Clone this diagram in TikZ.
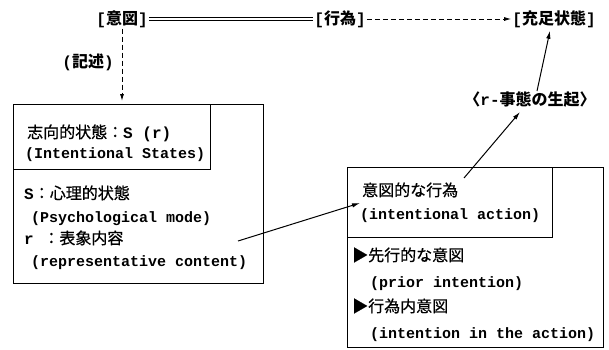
\documentclass[tikz,border=0pt]{standalone}
\usepackage{fontspec}
\newfontfamily\jp{Noto Sans CJK JP}
\newfontfamily\jpm{Noto Sans CJK JP}[FakeBold=0.7]
\newfontfamily\mono{Liberation Mono}
\usetikzlibrary{arrows.meta}
\begin{document}
\begin{tikzpicture}[x=1pt,y=-1pt,
  box/.style={draw, line width=1.1pt, inner sep=0pt, anchor=north west},
  jt/.style={font=\jpm\fontsize{16}{19}\selectfont, inner sep=0pt, anchor=base west},
  mt/.style={font=\mono\bfseries\fontsize{15}{18}\selectfont, inner sep=0pt, anchor=base west},
  head/.style={font=\jp\bfseries\fontsize{16}{19}\selectfont, inner sep=1pt},
  arr/.style={line width=1pt, -{Latex[length=8pt,width=4.5pt]}},
  dsh/.style={line width=0.9pt, dash pattern=on 5pt off 3pt}
]
\useasboundingbox (0,0) rectangle (609,349);
% top row
\node[head] (yi) at (122,19) {{\mono[}意図{\mono]}};
\node[head] (kou) at (340,19) {{\mono[}行為{\mono]}};
\node[head] (goal) at (554,19) {{\mono[}充足状態{\mono]}};
\node[font=\jp\bfseries\fontsize{16}{19}\selectfont, inner sep=0pt] (kijutsu) at (88,62) {{\mono\bfseries(}記述{\mono\bfseries)}};
\node[head, inner sep=0pt] (lab) at (530,99) {〈{\mono r-}事態の生起〉};
% boxes
\node[box, minimum width=250pt, minimum height=179pt] (lout) at (13,104) {};
\node[box, minimum width=197pt, minimum height=65pt] (lin) at (13,104) {};
\node[box, minimum width=256pt, minimum height=180pt] (rout) at (347,167) {};
\node[box, minimum width=205pt, minimum height=70pt] (rin) at (347,167) {};
% left box text
\node[jt] (l1) at (27,138) {志向的状態：{\mono\bfseries S (r)}};
\node[mt] (l2) at (25,158) {(Intentional States)};
\node[jt] (l3) at (24,199) {{\mono\bfseries S}：心理的状態};
\node[mt] (l4) at (31,222) {(Psychological mode)};
\node[jt] (l5) at (24,244) {{\mono\bfseries r }：表象内容};
\node[mt] (l6) at (31,266) {(representative content)};
% right box text
\node[jt] (r1) at (362,196) {意図的な行為};
\node[mt] (r2) at (360,219) {(intentional action)};
\node[jt] (r3) at (352,261) {▶先行的な意図};
\node[mt] (r4) at (370,287) {(prior intention)};
\node[jt] (r5) at (352,312) {▶行為内意図};
\node[mt] (r6) at (370,338) {(intention in the action)};
% connectors
\draw[double, double distance=2.6pt, line width=0.7pt] (yi.east) -- (kou.west);
\draw[dsh, -{Latex[length=7pt,width=4pt]}] (kou.east) -- (goal.west);
\draw[dsh, -{Latex[length=7pt,width=4pt]}, shorten >=3pt] (yi.south) -- (yi.south |- lout.north);
\coordinate (a1s) at (238,241);
\coordinate (a1e) at (360,203);
\draw[arr] (a1s) -- (a1e);
\coordinate (a2s) at (464,178);
\draw[arr] (a2s) -- ([xshift=-10pt,yshift=-5pt]lab.south);
\draw[arr] ([xshift=7pt]lab.north) -- ([xshift=-4pt,yshift=-2pt]goal.south);
\end{tikzpicture}
\end{document}
